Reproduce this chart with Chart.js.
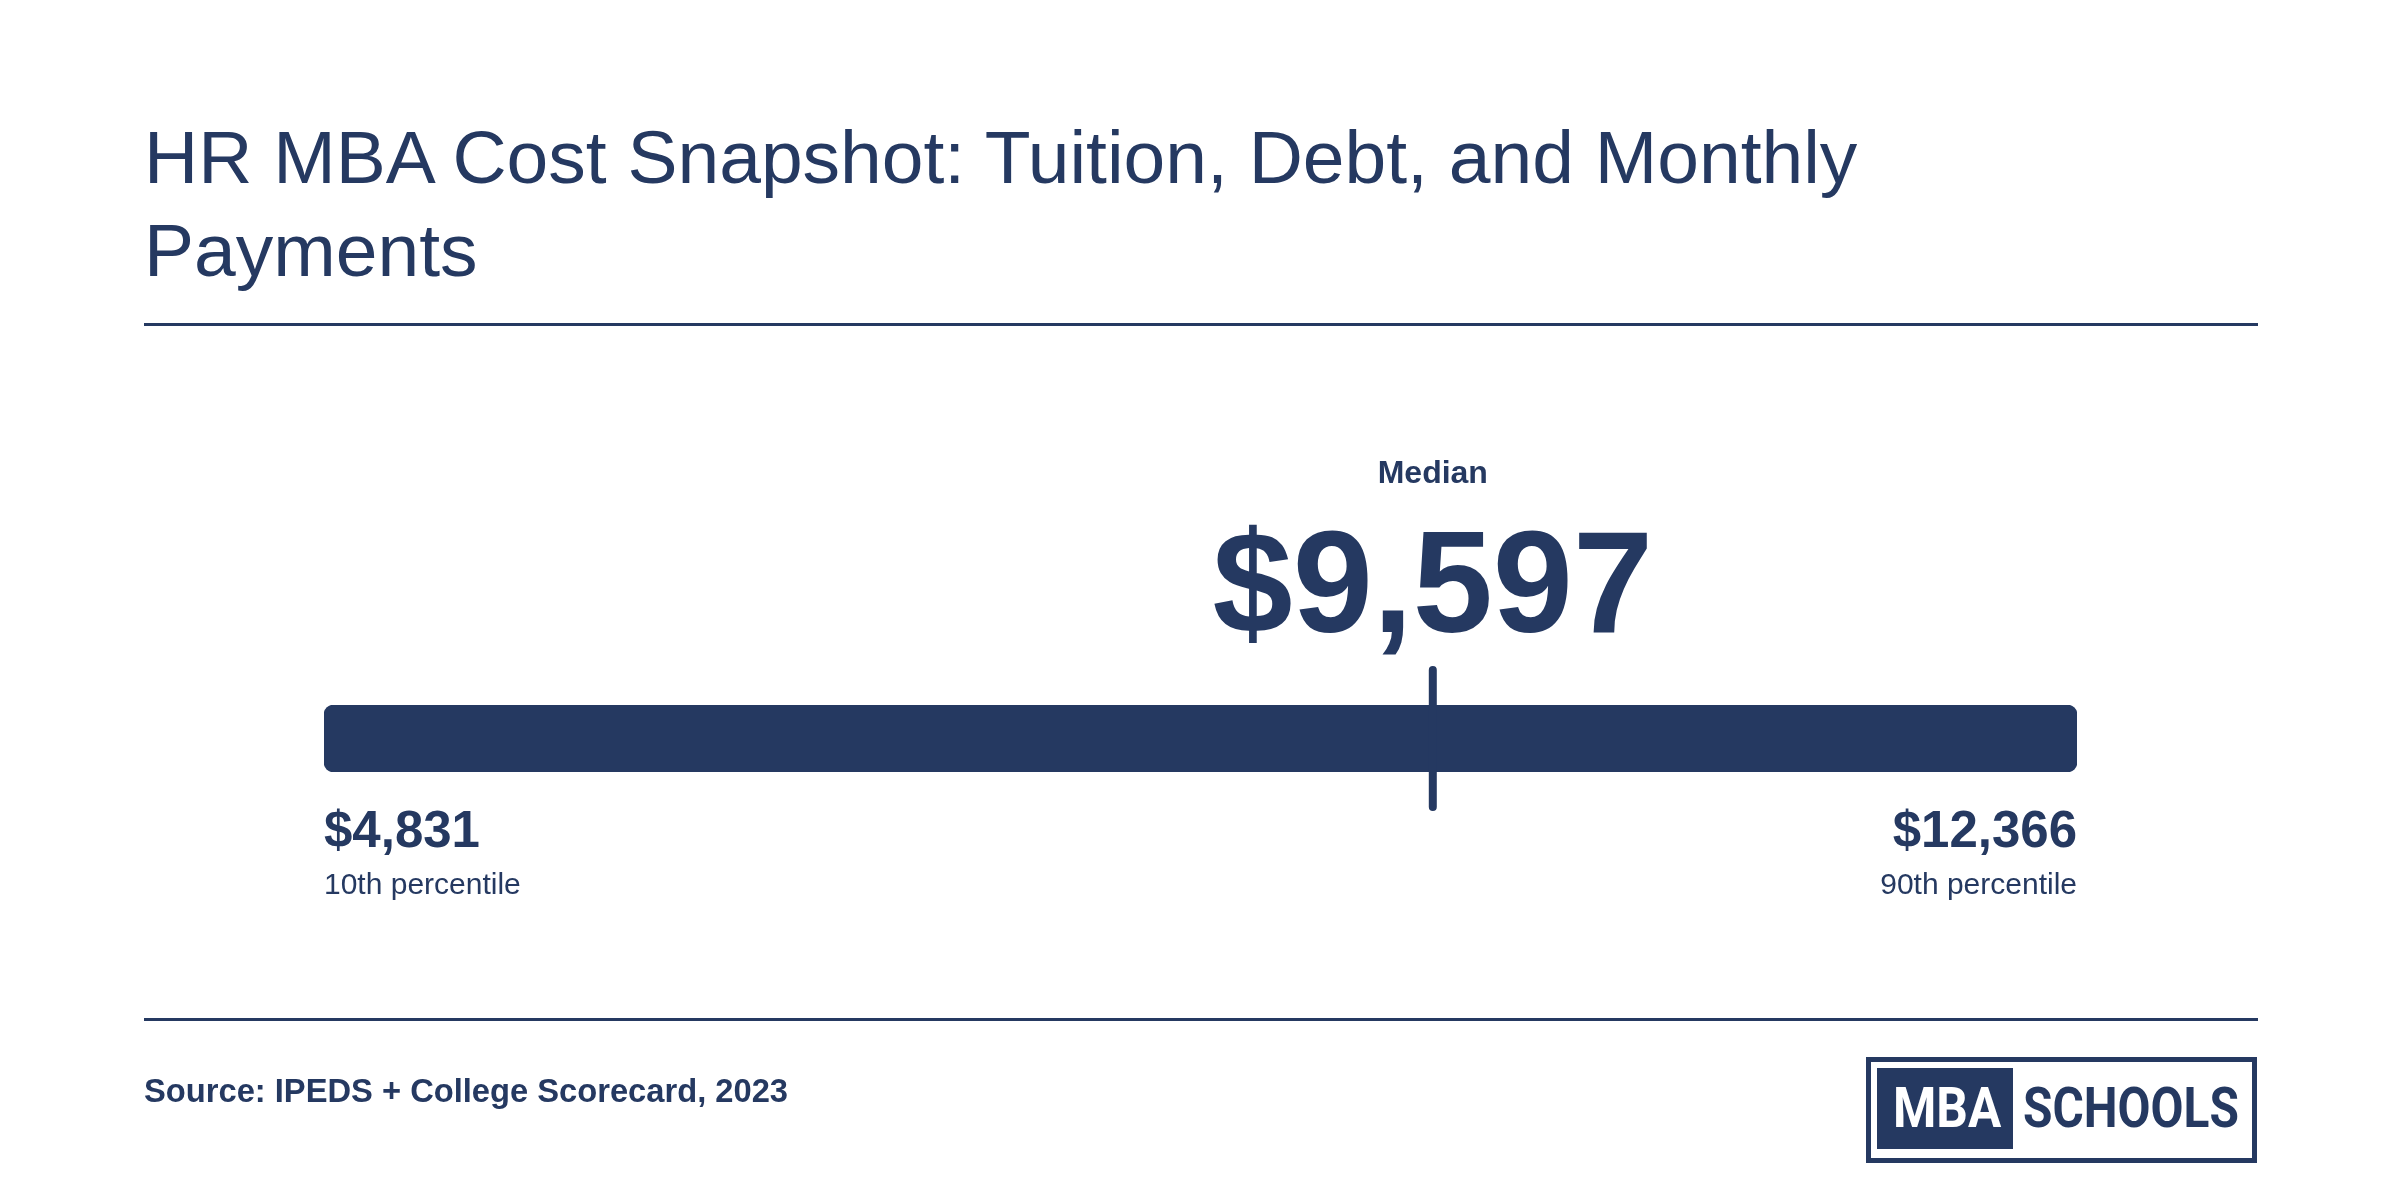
<!DOCTYPE html>
<html>
<head>
<meta charset="utf-8">
<script src="https://cdn.jsdelivr.net/npm/chart.js@4.4.1/dist/chart.umd.min.js"></script>
<style>
  html, body { margin: 0; padding: 0; background: #ffffff; }
  body { width: 2400px; height: 1200px; position: relative; overflow: hidden; font-family: "Liberation Sans", Arial, Helvetica, sans-serif; color: #253961; }
  #chart { position: absolute; left: 0; top: 0; }
  .title { position: absolute; left: 144px; top: 110.5px; font-size: 75px; line-height: 93px; font-weight: 400; white-space: nowrap; color: #253961; }
  .rule { position: absolute; left: 144px; width: 2114px; height: 3px; background: #253961; }
  .source { position: absolute; left: 144px; top: 1074.5px; font-size: 32.7px; line-height: 32.7px; font-weight: 700; white-space: nowrap; }
  .logo { position: absolute; left: 1866px; top: 1057px; width: 391px; height: 106px; box-sizing: border-box; border: 5px solid #253961; background: #fff; }
  .logo .box { position: absolute; left: 6px; top: 6px; width: 136px; height: 81px; background: #253961; }
  .logo .t { position: absolute; font-family: Roboto, "Liberation Sans", sans-serif; font-weight: 700; font-size: 55px; line-height: 55px; white-space: nowrap; transform-origin: 0 0; }
  .logo .mba { color: #ffffff; left: 22px; top: 19px; transform: scaleX(0.9); }
  .logo .schools { color: #253961; left: 152px; top: 19px; transform: scaleX(0.87); }
</style>
</head>
<body>
<div class="title">HR MBA Cost Snapshot: Tuition, Debt, and Monthly<br>Payments</div>
<div class="rule" style="top:323px"></div>
<canvas id="chart" width="2400" height="1200"></canvas>
<div class="rule" style="top:1018px"></div>
<div class="source">Source: IPEDS + College Scorecard, 2023</div>
<div class="logo"><div class="box"></div><span class="t mba">MBA</span><span class="t schools">SCHOOLS</span></div>
<script>
// ---- data ----
const categories = ['HR MBA annual cost'];
const p10Values = [4831];
const medianValues = [9597];
const p90Values = [12366];
const lowLabels = ['10th percentile'];
const highLabels = ['90th percentile'];
const medianLabels = ['Median'];

const NAVY = '#253961';
const money = v => '$' + v.toLocaleString('en-US');

const annotate = {
  id: 'annotate',
  afterDatasetsDraw(chart) {
    const ctx = chart.ctx;
    const x = chart.scales.x;
    const area = chart.chartArea;
    const font = "'Liberation Sans', Arial, Helvetica, sans-serif";
    ctx.save();
    ctx.fillStyle = NAVY;
    ctx.strokeStyle = NAVY;
    // median tick
    const mx = x.getPixelForValue(medianValues[0]);
    ctx.lineWidth = 8;
    ctx.lineCap = 'round';
    ctx.beginPath();
    ctx.moveTo(mx, area.top - 35);
    ctx.lineTo(mx, area.bottom + 35);
    ctx.stroke();
    // median labels
    ctx.textAlign = 'center';
    ctx.textBaseline = 'alphabetic';
    ctx.font = "700 32px " + font;
    ctx.fillText(medianLabels[0], mx, area.top - 222);
    ctx.font = "700 144px " + font;
    ctx.fillText(money(medianValues[0]), mx, area.top - 73);
    // low end
    const lx = x.getPixelForValue(p10Values[0]);
    ctx.textAlign = 'left';
    ctx.font = "700 51px " + font;
    ctx.fillText(money(p10Values[0]), lx, area.bottom + 75);
    ctx.font = "400 30px " + font;
    ctx.fillText(lowLabels[0], lx, area.bottom + 122);
    // high end
    const hx = x.getPixelForValue(p90Values[0]);
    ctx.textAlign = 'right';
    ctx.font = "700 51px " + font;
    ctx.fillText(money(p90Values[0]), hx, area.bottom + 75);
    ctx.font = "400 30px " + font;
    ctx.fillText(highLabels[0], hx, area.bottom + 122);
    ctx.restore();
  }
};

new Chart(document.getElementById('chart'), {
  type: 'bar',
  data: {
    labels: categories,
    datasets: [{
      data: categories.map((c, i) => [p10Values[i], p90Values[i]]),
      backgroundColor: NAVY,
      borderWidth: 0,
      borderRadius: 10,
      borderSkipped: false,
      barPercentage: 1,
      categoryPercentage: 1
    }]
  },
  options: {
    indexAxis: 'y',
    responsive: false,
    maintainAspectRatio: false,
    devicePixelRatio: 1,
    animation: false,
    events: [],
    layout: { padding: { left: 324, right: 323, top: 705, bottom: 428 } },
    plugins: { legend: { display: false }, tooltip: { enabled: false }, title: { display: false } },
    scales: {
      x: { type: 'linear', min: p10Values[0], max: p90Values[0], display: false },
      y: { display: false }
    }
  },
  plugins: [annotate]
});
</script>
</body>
</html>
